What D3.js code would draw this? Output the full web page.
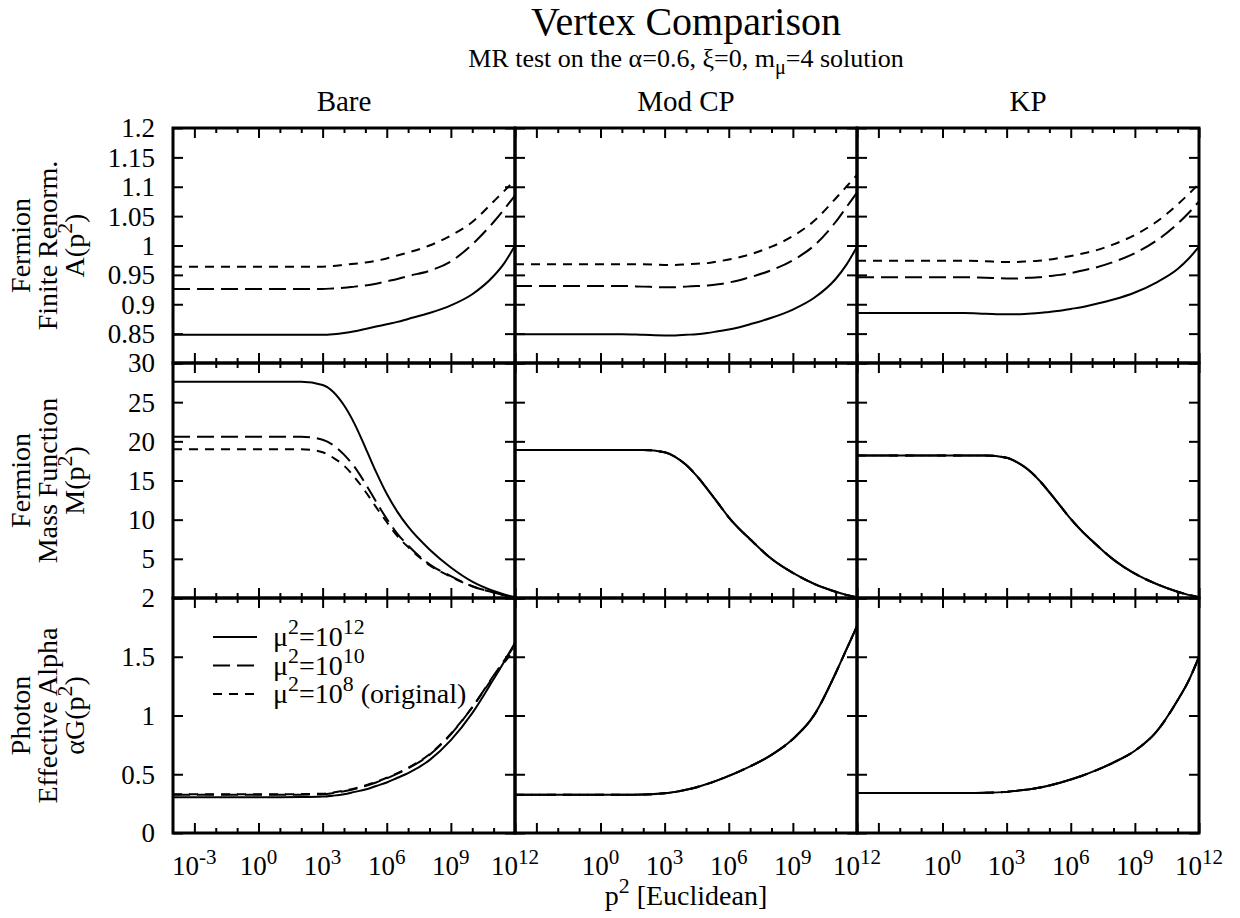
<!DOCTYPE html>
<html>
<head>
<meta charset="utf-8">
<script src="https://cdn.jsdelivr.net/npm/d3@7"></script>
<style>
  body { margin: 0; background: #fff; }
  svg text { font-family: "Liberation Serif", "Times New Roman", Times, serif; }
</style>
</head>
<body>
<div id="chart"></div>
<script>
// ---- data ----
const COLUMN_TITLES = ["Bare", "Mod CP", "KP"];

// p^2 sample points (Euclidean), 1e-4 .. 1e12
const P2 = [1e-4, 1e-2, 1, 1e1, 1e2, 1e3, 10 ** 3.5, 1e4, 10 ** 4.5, 1e5,
  10 ** 5.5, 1e6, 10 ** 6.5, 1e7, 1e8, 1e9, 1e10, 1e11, 10 ** 11.5, 1e12];

// A(p^2)
const BARE_A_MU12 = [0.848, 0.848, 0.848, 0.848, 0.848, 0.848, 0.849, 0.851, 0.854, 0.858, 0.862, 0.866, 0.870, 0.875, 0.885, 0.898, 0.917, 0.948, 0.970, 1.0];
const BARE_A_MU10 = [0.926, 0.926, 0.926, 0.926, 0.926, 0.926, 0.927, 0.928, 0.930, 0.932, 0.935, 0.939, 0.943, 0.948, 0.957, 0.973, 1.002, 1.040, 1.062, 1.085];
const BARE_A_MU8 = [0.964, 0.964, 0.964, 0.964, 0.964, 0.964, 0.965, 0.967, 0.969, 0.971, 0.974, 0.978, 0.983, 0.988, 1.000, 1.017, 1.040, 1.075, 1.093, 1.112];
const MODCP_A_MU12 = [0.849, 0.849, 0.849, 0.849, 0.848, 0.847, 0.847, 0.848, 0.849, 0.851, 0.854, 0.857, 0.861, 0.866, 0.877, 0.891, 0.911, 0.943, 0.967, 0.998];
const MODCP_A_MU10 = [0.931, 0.931, 0.931, 0.931, 0.930, 0.929, 0.929, 0.930, 0.931, 0.932, 0.934, 0.937, 0.941, 0.946, 0.958, 0.975, 1.000, 1.040, 1.065, 1.090];
const MODCP_A_MU8 = [0.968, 0.968, 0.968, 0.968, 0.968, 0.967, 0.967, 0.968, 0.969, 0.970, 0.973, 0.976, 0.980, 0.985, 0.998, 1.016, 1.042, 1.080, 1.100, 1.120];
const KP_A_MU12 = [0.885, 0.885, 0.885, 0.885, 0.884, 0.883, 0.883, 0.884, 0.885, 0.887, 0.889, 0.892, 0.895, 0.899, 0.908, 0.920, 0.937, 0.960, 0.977, 0.998];
const KP_A_MU10 = [0.946, 0.946, 0.946, 0.946, 0.945, 0.944, 0.944, 0.945, 0.946, 0.948, 0.950, 0.953, 0.957, 0.961, 0.972, 0.987, 1.008, 1.037, 1.055, 1.075];
const KP_A_MU8 = [0.974, 0.974, 0.974, 0.974, 0.973, 0.972, 0.972, 0.973, 0.974, 0.976, 0.979, 0.982, 0.986, 0.990, 1.002, 1.018, 1.040, 1.070, 1.087, 1.105];

// M(p^2)
const BARE_M_MU12 = [27.6, 27.6, 27.6, 27.6, 27.6, 27.2, 26.3, 24.6, 22.2, 19.2, 16.1, 13.3, 11.0, 9.1, 6.2, 3.9, 2.1, 0.9, 0.45, 0.1];
const BARE_M_MU10 = [20.6, 20.6, 20.6, 20.6, 20.6, 20.2, 19.5, 18.3, 16.7, 14.6, 12.3, 10.1, 8.2, 6.7, 4.3, 2.8, 1.5, 0.7, 0.35, 0.1];
const BARE_M_MU8 = [19.0, 19.0, 19.0, 19.0, 19.0, 18.6, 17.9, 16.9, 15.4, 13.6, 11.6, 9.7, 7.9, 6.5, 4.2, 2.7, 1.5, 0.7, 0.35, 0.1];
// the three mu^2 curves coincide for Mod CP and KP
const MODCP_M = [18.9, 18.9, 18.9, 18.9, 18.9, 18.6, 18.0, 17.0, 15.6, 13.9, 12.1, 10.3, 8.8, 7.5, 5.0, 3.2, 1.8, 0.8, 0.4, 0.1];
const KP_M = [18.2, 18.2, 18.2, 18.2, 18.2, 17.9, 17.3, 16.4, 15.1, 13.5, 11.8, 10.1, 8.6, 7.3, 4.9, 3.1, 1.8, 0.8, 0.4, 0.1];

// alpha G(p^2)
const BARE_G_MU12 = [0.305, 0.305, 0.305, 0.305, 0.306, 0.31, 0.318, 0.33, 0.35, 0.37, 0.40, 0.43, 0.47, 0.51, 0.62, 0.79, 1.02, 1.31, 1.46, 1.62];
const BARE_G_MU10 = [0.325, 0.325, 0.325, 0.325, 0.326, 0.33, 0.34, 0.355, 0.375, 0.40, 0.43, 0.465, 0.505, 0.55, 0.665, 0.84, 1.07, 1.34, 1.47, 1.60];
const BARE_G_MU8 = [0.33, 0.33, 0.33, 0.33, 0.331, 0.335, 0.345, 0.36, 0.38, 0.405, 0.435, 0.47, 0.51, 0.555, 0.67, 0.845, 1.07, 1.33, 1.45, 1.57];
const MODCP_G = [0.325, 0.325, 0.325, 0.325, 0.328, 0.338, 0.35, 0.368, 0.39, 0.418, 0.45, 0.486, 0.525, 0.567, 0.665, 0.80, 1.005, 1.36, 1.56, 1.76];
const KP_G = [0.34, 0.34, 0.34, 0.34, 0.342, 0.35, 0.36, 0.37, 0.385, 0.405, 0.428, 0.455, 0.485, 0.52, 0.60, 0.70, 0.86, 1.13, 1.29, 1.50];

// axes
const X_MAJOR_TICKS = [1e-3, 1, 1e3, 1e6, 1e9, 1e12];
const X_MAJOR_EXPONENTS = ["-3", "0", "3", "6", "9", "12"];
const X_MINOR_TICKS = [1e-2, 1e-1, 1e1, 1e2, 1e4, 1e5, 1e7, 1e8, 1e10, 1e11];
const A_TICKS = [0.8, 0.85, 0.9, 0.95, 1, 1.05, 1.1, 1.15, 1.2];
const A_TICK_LABELS = ["", "0.85", "0.9", "0.95", "1", "1.05", "1.1", "1.15", "1.2"];
const M_TICKS = [0, 5, 10, 15, 20, 25, 30];
const M_TICK_LABELS = ["", "5", "10", "15", "20", "25", "30"];
const G_TICKS = [0, 0.5, 1, 1.5, 2];
const G_TICK_LABELS = ["0", "0.5", "1", "1.5", "2"];

const LEGEND_EXPONENTS = ["12", "10", "8"];
const LEGEND_SUFFIXES = ["", "", " (original)"];

// ---- layout ----
const WIDTH = 1240;
const HEIGHT = 918;
const PANEL_LEFT = 173;
const PANEL_TOP = 128;
const PANEL_WIDTH = 342;
const PANEL_HEIGHT = 235;
const MAJOR_TICK = 10;
const MINOR_TICK = 5;
const FONT = '"Liberation Serif", "Times New Roman", Times, serif';
const TICK_LABEL_SIZE = 27;
const LABEL_SIZE = 28;
const SUP_SCALE = 0.78;
const SERIES_DASH = [null, "17,7", "9,7"];

const ROWS = [
  {
    domain: [0.8, 1.2], ticks: A_TICKS, tickLabels: A_TICK_LABELS,
    title: [[{ t: "Fermion" }], [{ t: "Finite Renorm." }], [{ t: "A(p" }, { t: "2", sup: true }, { t: ")" }]],
    series: [
      [BARE_A_MU12, BARE_A_MU10, BARE_A_MU8],
      [MODCP_A_MU12, MODCP_A_MU10, MODCP_A_MU8],
      [KP_A_MU12, KP_A_MU10, KP_A_MU8],
    ],
  },
  {
    domain: [0, 30], ticks: M_TICKS, tickLabels: M_TICK_LABELS,
    title: [[{ t: "Fermion" }], [{ t: "Mass Function" }], [{ t: "M(p" }, { t: "2", sup: true }, { t: ")" }]],
    series: [
      [BARE_M_MU12, BARE_M_MU10, BARE_M_MU8],
      [MODCP_M, MODCP_M, MODCP_M],
      [KP_M, KP_M, KP_M],
    ],
  },
  {
    domain: [0, 2], ticks: G_TICKS, tickLabels: G_TICK_LABELS,
    title: [[{ t: "Photon" }], [{ t: "Effective Alpha" }], [{ t: "\u03b1G(p" }, { t: "2", sup: true }, { t: ")" }]],
    series: [
      [BARE_G_MU12, BARE_G_MU10, BARE_G_MU8],
      [MODCP_G, MODCP_G, MODCP_G],
      [KP_G, KP_G, KP_G],
    ],
  },
];

// text with gnuplot-like super/subscripts
function appendRichText(textSel, parts, fontSize) {
  const shift = fontSize * 0.42;
  let offset = 0;
  textSel.attr("font-family", FONT).attr("font-size", fontSize);
  parts.forEach((part) => {
    const target = part.sup ? -shift : part.sub ? shift * 0.6 : 0;
    textSel
      .append("tspan")
      .attr("dy", target - offset)
      .attr("font-size", part.sup || part.sub ? fontSize * SUP_SCALE : fontSize)
      .text(part.t);
    offset = target;
  });
  return textSel;
}

function drawPanel(svg, rowIndex, colIndex) {
  const row = ROWS[rowIndex];
  const left = PANEL_LEFT + colIndex * PANEL_WIDTH;
  const top = PANEL_TOP + rowIndex * PANEL_HEIGHT;

  const x = d3.scaleLog().domain([1e-4, 1e12]).range([left, left + PANEL_WIDTH]);
  const y = d3.scaleLinear().domain(row.domain).range([top + PANEL_HEIGHT, top]);

  const panel = svg.append("g").attr("class", `panel r${rowIndex} c${colIndex}`);

  const styleAxis = (g) => {
    g.select(".domain").remove();
    g.selectAll("line").attr("stroke", "#000").attr("stroke-width", 2);
  };

  // x ticks, mirrored top/bottom, pointing inward
  [[X_MAJOR_TICKS, MAJOR_TICK], [X_MINOR_TICKS, MINOR_TICK]].forEach(([values, size]) => {
    panel.append("g")
      .attr("transform", `translate(0,${top + PANEL_HEIGHT})`)
      .call(d3.axisBottom(x).tickValues(values).tickSizeInner(-size).tickSizeOuter(0).tickFormat(""))
      .call(styleAxis);
    panel.append("g")
      .attr("transform", `translate(0,${top})`)
      .call(d3.axisTop(x).tickValues(values).tickSizeInner(-size).tickSizeOuter(0).tickFormat(""))
      .call(styleAxis);
  });

  // y ticks, mirrored left/right
  panel.append("g")
    .attr("transform", `translate(${left},0)`)
    .call(d3.axisLeft(y).tickValues(row.ticks).tickSizeInner(-MAJOR_TICK).tickSizeOuter(0).tickFormat(""))
    .call(styleAxis);
  panel.append("g")
    .attr("transform", `translate(${left + PANEL_WIDTH},0)`)
    .call(d3.axisRight(y).tickValues(row.ticks).tickSizeInner(-MAJOR_TICK).tickSizeOuter(0).tickFormat(""))
    .call(styleAxis);

  // curves
  const clipId = `clip-${rowIndex}-${colIndex}`;
  panel.append("clipPath").attr("id", clipId)
    .append("rect")
    .attr("x", left).attr("y", top)
    .attr("width", PANEL_WIDTH).attr("height", PANEL_HEIGHT);

  const line = d3.line()
    .x((d) => x(d[0]))
    .y((d) => y(d[1]))
    .curve(d3.curveMonotoneX);

  row.series[colIndex].forEach((values, seriesIndex) => {
    panel.append("path")
      .attr("clip-path", `url(#${clipId})`)
      .attr("d", line(P2.map((p, i) => [p, values[i]])))
      .attr("fill", "none")
      .attr("stroke", "#000")
      .attr("stroke-width", 2)
      .attr("stroke-dasharray", SERIES_DASH[seriesIndex]);
  });

  // border
  panel.append("rect")
    .attr("x", left).attr("y", top)
    .attr("width", PANEL_WIDTH).attr("height", PANEL_HEIGHT)
    .attr("fill", "none")
    .attr("stroke", "#000")
    .attr("stroke-width", 3);

  // y tick labels on the first column
  if (colIndex === 0) {
    panel.append("g")
      .selectAll("text")
      .data(row.ticks)
      .join("text")
      .attr("x", left - 18)
      .attr("y", (d) => y(d))
      .attr("dy", "0.35em")
      .attr("text-anchor", "end")
      .attr("font-family", FONT)
      .attr("font-size", TICK_LABEL_SIZE)
      .text((d, i) => row.tickLabels[i]);
  }

  // x tick labels on the bottom row
  if (rowIndex === ROWS.length - 1) {
    X_MAJOR_TICKS.forEach((value, i) => {
      if (colIndex > 0 && i === 0) return; // would collide with the 10^12 of the panel to the left
      const label = panel.append("text")
        .attr("x", x(value))
        .attr("y", top + PANEL_HEIGHT + 42)
        .attr("text-anchor", "middle");
      appendRichText(label, [{ t: "10" }, { t: X_MAJOR_EXPONENTS[i], sup: true }], TICK_LABEL_SIZE);
    });
  }

  return { x, y };
}

function drawChart() {
  const svg = d3.select("#chart")
    .append("svg")
    .attr("width", WIDTH)
    .attr("height", HEIGHT)
    .attr("viewBox", [0, 0, WIDTH, HEIGHT])
    .attr("font-family", FONT)
    .style("display", "block");

  svg.append("rect").attr("width", WIDTH).attr("height", HEIGHT).attr("fill", "#fff");

  const centerX = PANEL_LEFT + (PANEL_WIDTH * COLUMN_TITLES.length) / 2;

  svg.append("text")
    .attr("x", centerX).attr("y", 35)
    .attr("text-anchor", "middle")
    .attr("font-family", FONT)
    .attr("font-size", 40)
    .text("Vertex Comparison");

  appendRichText(
    svg.append("text").attr("x", centerX).attr("y", 67).attr("text-anchor", "middle"),
    [
      { t: "MR test on the \u03b1=0.6, \u03be=0, m" },
      { t: "\u03bc", sub: true },
      { t: "=4 solution" },
    ],
    26
  );

  COLUMN_TITLES.forEach((title, i) => {
    svg.append("text")
      .attr("x", PANEL_LEFT + PANEL_WIDTH * (i + 0.5))
      .attr("y", 111)
      .attr("text-anchor", "middle")
      .attr("font-family", FONT)
      .attr("font-size", 29)
      .text(title);
  });

  const panels = ROWS.map((_, r) => COLUMN_TITLES.map((_, c) => drawPanel(svg, r, c)));

  // row titles, rotated
  const TITLE_BASELINES = [30, 57, 84];
  ROWS.forEach((row, r) => {
    const cy = PANEL_TOP + PANEL_HEIGHT * (r + 0.5);
    row.title.forEach((parts, k) => {
      const t = svg.append("text")
        .attr("transform", `translate(${TITLE_BASELINES[k]},${cy}) rotate(-90)`)
        .attr("text-anchor", "middle");
      appendRichText(t, parts, LABEL_SIZE);
    });
  });

  // x axis title
  appendRichText(
    svg.append("text").attr("x", centerX).attr("y", 905).attr("text-anchor", "middle"),
    [{ t: "p" }, { t: "2", sup: true }, { t: " [Euclidean]" }],
    LABEL_SIZE
  );

  // legend in the Bare / alpha G panel
  const legendRowY = [637, 665.5, 694];
  const legend = svg.append("g").attr("class", "legend");
  LEGEND_EXPONENTS.forEach((exp, i) => {
    legend.append("line")
      .attr("x1", 213).attr("x2", 257)
      .attr("y1", legendRowY[i]).attr("y2", legendRowY[i])
      .attr("stroke", "#000")
      .attr("stroke-width", 2)
      .attr("stroke-dasharray", SERIES_DASH[i]);
    const t = legend.append("text")
      .attr("x", 273)
      .attr("y", legendRowY[i] + 9);
    const parts = [{ t: "\u03bc" }, { t: "2", sup: true }, { t: "=10" }, { t: exp, sup: true }];
    if (LEGEND_SUFFIXES[i]) parts.push({ t: LEGEND_SUFFIXES[i] });
    appendRichText(t, parts, LABEL_SIZE);
  });

  return panels;
}

drawChart();
</script>
</body>
</html>
